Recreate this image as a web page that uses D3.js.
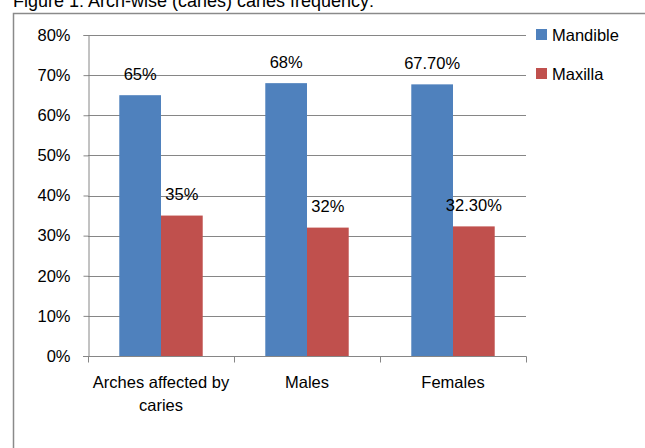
<!DOCTYPE html>
<html>
<head>
<meta charset="utf-8">
<script src="https://cdn.jsdelivr.net/npm/d3@7"></script>
<style>
  body { margin: 0; background: #fff; }
  svg { display: block; font-family: "Liberation Sans", Arial, sans-serif; }
</style>
</head>
<body>
<script>
var categories = [["Arches affected by", "caries"], ["Males"], ["Females"]];
var series = ["Mandible", "Maxilla"];
var mandible = [0.65, 0.68, 0.677];
var maxilla = [0.35, 0.32, 0.323];
var mandibleLabels = ["65%", "68%", "67.70%"];
var maxillaLabels = ["35%", "32%", "32.30%"];
var yTicks = [0, 0.1, 0.2, 0.3, 0.4, 0.5, 0.6, 0.7, 0.8];
var colors = ["#4F81BD", "#C0504D"];

var width = 645, height = 448;
var fs = 16.5;

var svg = d3.select("body").append("svg")
    .attr("width", width)
    .attr("height", height);

// title, mostly cut off by the top edge
svg.append("text")
    .attr("x", 13)
    .attr("y", 7)
    .attr("font-size", 18)
    .attr("fill", "#000")
    .text("Figure 1: Arch-wise (caries) caries frequency:");

// chart frame
svg.append("path")
    .attr("d", "M13.5,448V13.5H645")
    .attr("fill", "none")
    .attr("stroke", "#8a8a8a")
    .attr("stroke-width", 1.5);

var rows = categories.map(function (c, i) {
  return { cat: c, key: c.join(" "), values: [mandible[i], maxilla[i]], labels: [mandibleLabels[i], maxillaLabels[i]] };
});

var x0 = d3.scaleBand()
    .domain(rows.map(function (d) { return d.key; }))
    .range([88, 526])
    .paddingInner(0)
    .paddingOuter(0);

var x1 = d3.scaleBand()
    .domain(series)
    .range([0, x0.bandwidth()])
    .paddingInner(0)
    .paddingOuter(0.75);

var y = d3.scaleLinear()
    .domain([0, 0.8])
    .range([356, 35]);

// gridlines
svg.append("g")
    .selectAll("line")
    .data(yTicks.slice(1))
    .enter().append("line")
    .attr("x1", 88)
    .attr("x2", 526)
    .attr("y1", function (d) { return Math.round(y(d)) + 0.5; })
    .attr("y2", function (d) { return Math.round(y(d)) + 0.5; })
    .attr("stroke", "#868686");

// bars
var group = svg.append("g")
    .selectAll("g")
    .data(rows)
    .enter().append("g")
    .attr("transform", function (d) { return "translate(" + x0(d.key) + ",0)"; });

group.selectAll("rect")
    .data(function (d) { return d.values.map(function (v, i) { return { s: series[i], v: v, i: i }; }); })
    .enter().append("rect")
    .attr("x", function (d) { return x1(d.s); })
    .attr("width", x1.bandwidth())
    .attr("y", function (d) { return y(d.v); })
    .attr("height", function (d) { return y(0) - y(d.v); })
    .attr("fill", function (d) { return colors[d.i]; });

group.selectAll(".lbl")
    .data(function (d) { return d.values.map(function (v, i) { return { s: series[i], v: v, t: d.labels[i] }; }); })
    .enter().append("text")
    .attr("class", "lbl")
    .attr("x", function (d) { return x1(d.s) + x1.bandwidth() / 2; })
    .attr("y", function (d) { return y(d.v) - 21; })
    .attr("dy", "0.35em")
    .attr("text-anchor", "middle")
    .attr("font-size", fs)
    .text(function (d) { return d.t; });

// y axis
var yAxis = svg.append("g")
    .attr("transform", "translate(88.5,0)")
    .call(d3.axisLeft(y).tickValues(yTicks).tickFormat(d3.format(".0%")).tickSize(5).tickPadding(13));
yAxis.selectAll("line").attr("stroke", "#868686");
yAxis.select(".domain").attr("stroke", "#868686");
yAxis.selectAll("text").attr("font-size", fs).attr("fill", "#000").attr("font-family", null);

// x axis
var xAxis = svg.append("g")
    .attr("transform", "translate(0,356.5)");
xAxis.append("line")
    .attr("x1", 83).attr("x2", 526.5)
    .attr("stroke", "#868686");
xAxis.selectAll(".tick")
    .data([88].concat(rows.map(function (d) { return x0(d.key) + x0.bandwidth(); })))
    .enter().append("line")
    .attr("x1", function (d) { return Math.round(d) + 0.5; })
    .attr("x2", function (d) { return Math.round(d) + 0.5; })
    .attr("y2", 6)
    .attr("stroke", "#868686");

xAxis.selectAll(".cat")
    .data(rows)
    .enter().append("text")
    .attr("class", "cat")
    .attr("x", function (d) { return x0(d.key) + x0.bandwidth() / 2; })
    .attr("y", 26)
    .attr("text-anchor", "middle")
    .attr("font-size", fs)
    .each(function (d) {
      var t = d3.select(this);
      d.cat.forEach(function (line, i) {
        t.append("tspan")
            .attr("x", x0(d.key) + x0.bandwidth() / 2)
            .attr("dy", i === 0 ? "0.35em" : "1.4em")
            .text(line);
      });
    });

// legend
var legend = svg.append("g")
    .selectAll("g")
    .data(series)
    .enter().append("g")
    .attr("transform", function (d, i) { return "translate(536," + (29 + i * 39) + ")"; });

legend.append("rect")
    .attr("width", 11)
    .attr("height", 11)
    .attr("fill", function (d, i) { return colors[i]; });

legend.append("text")
    .attr("x", 16)
    .attr("y", 6)
    .attr("dy", "0.35em")
    .attr("font-size", fs)
    .text(function (d) { return d; });
</script>
</body>
</html>
